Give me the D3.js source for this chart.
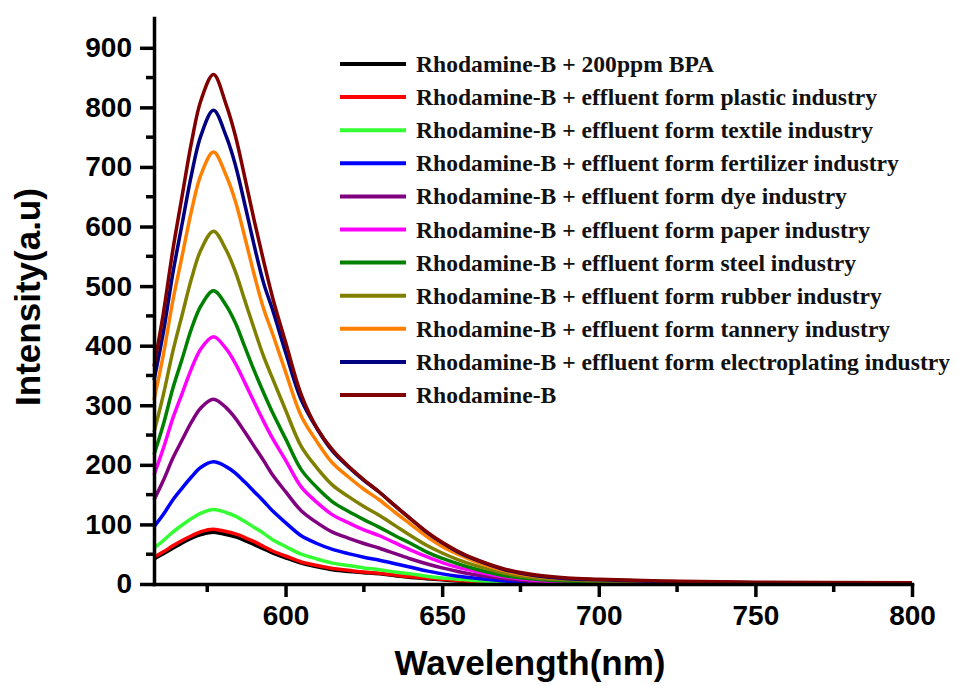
<!DOCTYPE html>
<html lang="en">
<head>
<meta charset="UTF-8">
<title>Rhodamine-B fluorescence</title>
<style>
  body { margin: 0; background: #fff; }
  .tick text { font: bold 28px Arial, "Liberation Sans", sans-serif; fill: #000; }
  .axis path, .axis line { stroke: #000; stroke-width: 3.5px; }
  .axis-title { font: bold 35px Arial, "Liberation Sans", sans-serif; fill: #000; }
  .legend text { font: bold 23.6px "Liberation Serif", "Times New Roman", serif; fill: #111; }
  .curve { fill: none; stroke-width: 3.5px; stroke-linejoin: round; }
</style>
</head>
<body>
<svg id="chart" width="959" height="686"></svg>

<script src="https://d3js.org/d3.v7.min.js"></script>
<script>
// wavelength grid (nm)
const wavelength = [558, 561, 564, 567, 570, 573, 577, 581, 584, 587, 590, 593, 596, 600, 605, 610,
  615, 620, 625, 630, 635, 640, 645, 650, 655, 660, 670, 680, 690, 700, 720, 750, 800];

// intensities (a.u.), one array per sample
const bpa =         [42, 51, 60, 69, 77, 83, 87, 83, 79, 73, 66, 59, 52, 44, 35, 29, 24, 21, 19, 17, 14, 11, 9, 7, 5, 4, 2, 1, 0, 0, 0, 0, 0];
const plastic =     [45, 54, 64, 73, 81, 88, 92, 88, 84, 78, 71, 63, 55, 47, 37, 31, 26, 23, 20, 18, 15, 12, 10, 8, 6, 4, 2, 1, 0, 0, 0, 0, 0];
const textile =     [60, 73, 87, 99, 110, 119, 125, 120, 114, 105, 95, 85, 74, 63, 50, 42, 35, 31, 27, 24, 20, 17, 13, 10, 8, 6, 3, 1, 1, 0, 0, 0, 0];
const fertilizer =  [96, 117, 141, 161, 180, 196, 205, 197, 186, 171, 155, 139, 122, 103, 81, 68, 58, 51, 45, 40, 34, 28, 22, 17, 13, 10, 5, 2, 1, 1, 0, 0, 0];
const dye =         [141, 174, 211, 242, 272, 296, 310, 296, 278, 255, 231, 207, 182, 155, 123, 103, 87, 77, 68, 60, 51, 42, 34, 27, 21, 16, 9, 4, 2, 1, 1, 0, 0];
const paper =       [183, 228, 278, 320, 362, 395, 415, 395, 370, 338, 305, 273, 243, 208, 163, 137, 116, 103, 91, 81, 69, 57, 46, 36, 28, 22, 12, 6, 4, 2, 1, 1, 0];
const steel =       [217, 268, 328, 378, 429, 467, 492, 468, 438, 398, 358, 321, 286, 244, 192, 162, 138, 122, 108, 95, 81, 68, 54, 43, 34, 26, 14, 8, 5, 3, 2, 1, 1];
const rubber =      [255, 318, 390, 452, 513, 561, 592, 561, 524, 476, 428, 382, 343, 292, 231, 195, 166, 147, 130, 115, 98, 81, 65, 52, 41, 32, 18, 10, 7, 5, 3, 2, 1];
const tannery =     [309, 385, 475, 551, 627, 687, 725, 686, 642, 582, 519, 462, 418, 356, 282, 239, 203, 180, 159, 141, 120, 100, 80, 63, 50, 39, 22, 13, 9, 7, 4, 2, 1];
const electroplating = [342, 423, 521, 605, 688, 753, 795, 752, 703, 637, 568, 505, 458, 389, 309, 261, 223, 197, 174, 154, 131, 109, 87, 69, 54, 42, 24, 14, 9, 7, 4, 2, 1];
const rhodamine =   [365, 455, 560, 652, 742, 812, 855, 805, 752, 682, 610, 542, 478, 406, 318, 262, 225, 198, 175, 154, 131, 109, 88, 70, 55, 43, 25, 15, 10, 8, 5, 3, 2];

const seriesNames = [
  'Rhodamine-B + 200ppm BPA',
  'Rhodamine-B + effluent form plastic industry',
  'Rhodamine-B + effluent form textile industry',
  'Rhodamine-B + effluent form fertilizer industry',
  'Rhodamine-B + effluent form dye industry',
  'Rhodamine-B + effluent form paper industry',
  'Rhodamine-B + effluent form steel industry',
  'Rhodamine-B + effluent form rubber industry',
  'Rhodamine-B + effluent form tannery industry',
  'Rhodamine-B + effluent form electroplating industry',
  'Rhodamine-B'
];
const seriesValues = [bpa, plastic, textile, fertilizer, dye, paper, steel, rubber, tannery, electroplating, rhodamine];
const seriesColors = ['#000000', '#ff0000', '#33ff33', '#0000ff', '#800080', '#ff00ff',
  '#008000', '#808000', '#ff8000', '#000080', '#800000'];

const xTicks = [600, 650, 700, 750, 800];
const xMinor = [575, 625, 675, 725, 775];
const yTicks = [0, 100, 200, 300, 400, 500, 600, 700, 800, 900];
const yMinor = [50, 150, 250, 350, 450, 550, 650, 750, 850];

const svg = d3.select('#chart');

const x = d3.scaleLinear().domain([558, 800]).range([154, 912]);
const y = d3.scaleLinear().domain([0, 950]).range([584, 18]);

// curves
const line = d3.line()
  .x((d, i) => x(wavelength[i]))
  .y(d => y(Math.max(0, d)))
  .curve(d3.curveCatmullRom.alpha(0.5));

svg.append('g')
  .selectAll('path')
  .data(seriesValues)
  .enter().append('path')
  .attr('class', 'curve')
  .attr('stroke', (d, i) => seriesColors[i])
  .attr('d', line);

// axes
const xAxis = svg.append('g')
  .attr('class', 'axis')
  .attr('transform', `translate(0,${y(0)})`)
  .call(d3.axisBottom(x).tickValues(xTicks).tickSize(13).tickPadding(8).tickSizeOuter(0));
xAxis.append('g')
  .selectAll('line')
  .data(xMinor)
  .enter().append('line')
  .attr('x1', d => x(d)).attr('x2', d => x(d))
  .attr('y1', 0).attr('y2', 8);

const yAxis = svg.append('g')
  .attr('class', 'axis')
  .attr('transform', `translate(${x(558)},0)`)
  .call(d3.axisLeft(y).tickValues(yTicks).tickSize(14).tickPadding(8).tickSizeOuter(0));
yAxis.append('g')
  .selectAll('line')
  .data(yMinor)
  .enter().append('line')
  .attr('y1', d => y(d)).attr('y2', d => y(d))
  .attr('x1', 0).attr('x2', -8);
yAxis.select('.domain').attr('stroke-linecap', 'square');
xAxis.select('.domain').attr('stroke-linecap', 'square');

// axis titles
svg.append('text')
  .attr('class', 'axis-title')
  .attr('text-anchor', 'middle')
  .attr('x', 530)
  .attr('y', 675)
  .text('Wavelength(nm)');

svg.append('text')
  .attr('class', 'axis-title')
  .attr('text-anchor', 'middle')
  .attr('transform', 'translate(40,297) rotate(-90)')
  .text('Intensity(a.u)');

// legend
const legend = svg.append('g').attr('class', 'legend');
const rows = legend.selectAll('g')
  .data(seriesNames)
  .enter().append('g')
  .attr('transform', (d, i) => `translate(340,${64 + i * 33.1})`);

rows.append('line')
  .attr('x1', 0).attr('x2', 66)
  .attr('stroke', (d, i) => seriesColors[i])
  .attr('stroke-width', 4);

rows.append('text')
  .attr('x', 76)
  .attr('y', 8)
  .text(d => d);
</script>
</body>
</html>
